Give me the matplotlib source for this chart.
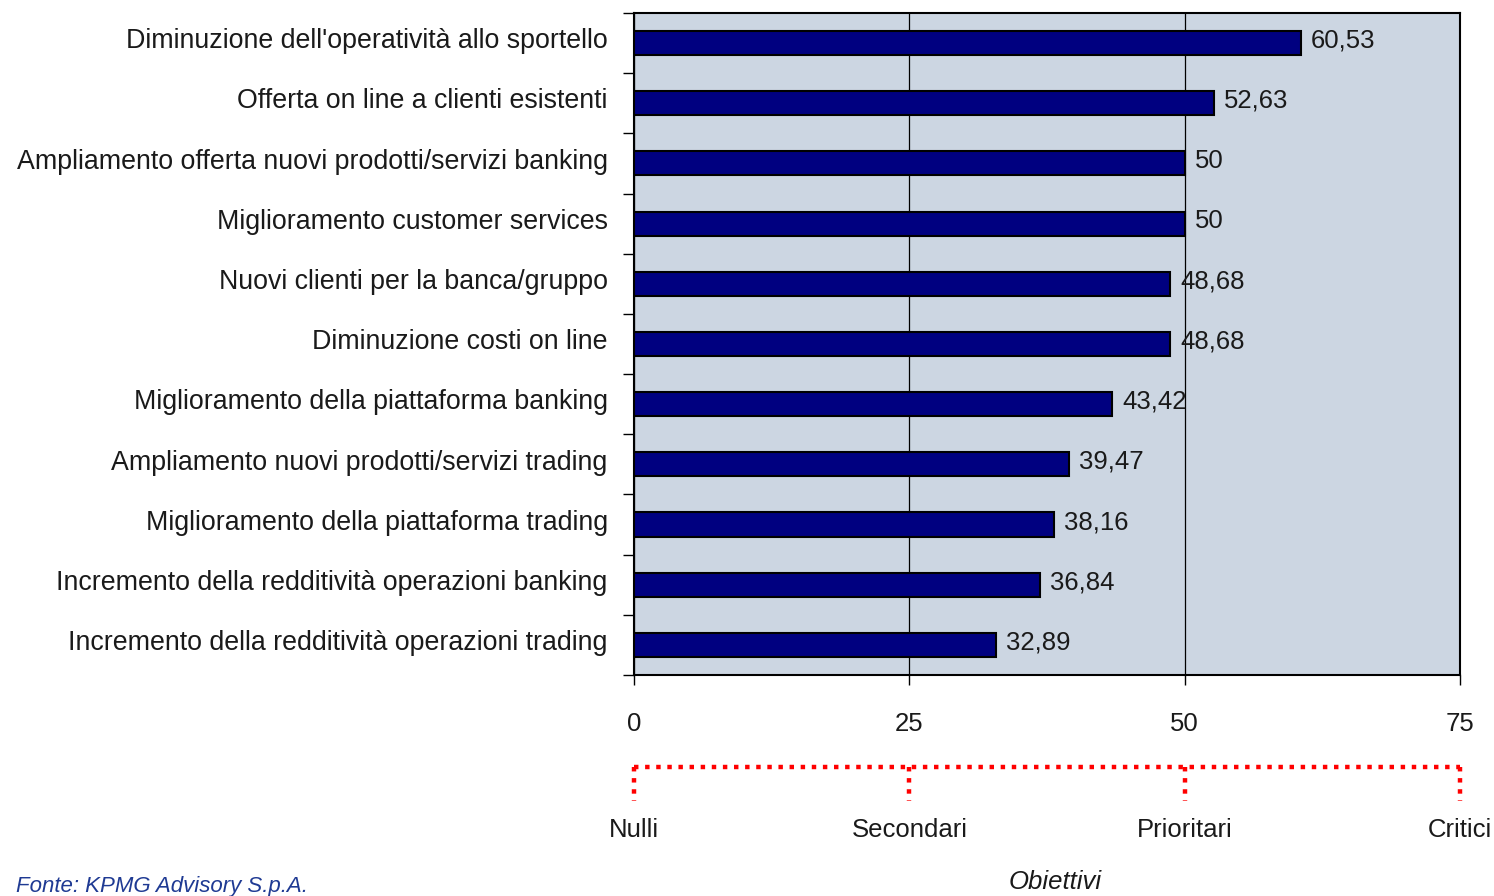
import numpy as np
import matplotlib.pyplot as plt
from matplotlib.transforms import blended_transform_factory

plt.rcParams['font.family'] = ['Liberation Sans', 'DejaVu Sans']

# obiettivi dell'offerta on line, punteggio medio
voci = [
    "Diminuzione dell'operatività allo sportello",
    "Offerta on line a clienti esistenti",
    "Ampliamento offerta nuovi prodotti/servizi banking",
    "Miglioramento customer services",
    "Nuovi clienti per la banca/gruppo",
    "Diminuzione costi on line",
    "Miglioramento della piattaforma banking",
    "Ampliamento nuovi prodotti/servizi trading",
    "Miglioramento della piattaforma trading",
    "Incremento della redditività operazioni banking",
    "Incremento della redditività operazioni trading",
]
punteggi = [60.53, 52.63, 50, 50, 48.68, 48.68, 43.42, 39.47, 38.16, 36.84, 32.89]
scala_ticks = [0, 25, 50, 75]
scala_nomi = ["Nulli", "Secondari", "Prioritari", "Critici"]

FS = 18.5
TXT = '#1a1a1a'

fig = plt.figure(figsize=(14.94, 8.96), dpi=100)
ax = fig.add_axes([0.4244, 0.2467, 0.5528, 0.7388])
ax.set_facecolor('#CCD6E2')

y = np.arange(len(voci))
ax.barh(y, punteggi, height=0.4, color='#000080', edgecolor='black', linewidth=1.5, zorder=3)

for yi, v in zip(y, punteggi):
    txt = f"{v:.2f}".replace('.', ',') if v != int(v) else str(int(v))
    ax.text(v + 0.9, yi - 0.04, txt, va='center', ha='left', fontsize=FS, color=TXT, zorder=4)

ax.set_xlim(0, 75)
ax.set_ylim(len(voci) - 0.5, -0.5)
ax.set_xticks(scala_ticks)
ax.set_xticklabels([str(t) for t in scala_ticks], fontsize=FS, color=TXT)
ax.set_yticks(y - 0.08)
ax.set_yticklabels(voci, fontsize=19.3, color=TXT)
ax.set_yticks(np.arange(len(voci) + 1) - 0.5, minor=True)
ax.tick_params(axis='y', which='major', length=0, pad=19)
ax.tick_params(axis='y', which='minor', length=8, width=1, direction='out')
ax.tick_params(axis='x', length=7, width=1, direction='out', pad=20)
ax.grid(axis='x', color='black', linewidth=0.9, zorder=1)
ax.set_axisbelow(True)
for s in ax.spines.values():
    s.set_color('black')
    s.set_linewidth(1.5)

# staffa tratteggiata rossa sotto la scala
tr = blended_transform_factory(ax.transData, ax.transAxes)
ax.plot([0, 75], [-0.139, -0.139], transform=tr, clip_on=False,
        color='red', linewidth=3.2, linestyle=(0, (1, 1.5)))
for t in scala_ticks:
    ax.plot([t, t], [-0.139, -0.19], transform=tr, clip_on=False,
            color='red', linewidth=3.2, linestyle=(0, (1, 1.5)))
for t, nome in zip(scala_ticks, scala_nomi):
    ax.text(t, -0.234, nome, transform=tr, ha='center', va='center', fontsize=FS, color=TXT)

ax.text(38.2, -0.313, "Obiettivi", transform=tr, ha='center', va='center',
        fontsize=FS, style='italic', color=TXT)
fig.text(0.011, 0.011, "Fonte: KPMG Advisory S.p.A.", ha='left', va='center',
         fontsize=16, style='italic', color='#1F3A93')

fig.savefig('out.png', dpi=100)
